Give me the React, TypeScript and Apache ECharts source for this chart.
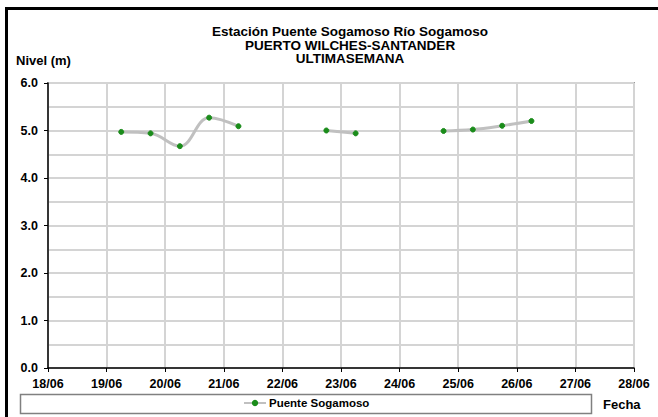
import React, { useEffect, useRef } from "react";
import * as echarts from "echarts";

const tituloLineas = [
  "Estación Puente Sogamoso Río Sogamoso",
  "PUERTO WILCHES-SANTANDER",
  "ULTIMASEMANA",
];
const serieNombre = "Puente Sogamoso";
const fechas = [
  "19/06 06:00", "19/06 18:00", "20/06 06:00", "20/06 18:00", "21/06 06:00",
  "21/06 18:00", "22/06 06:00", "22/06 18:00", "23/06 06:00", "23/06 18:00",
  "24/06 06:00", "24/06 18:00", "25/06 06:00", "25/06 18:00", "26/06 06:00",
];
const nivel: (number | null)[] = [
  4.97, 4.94, 4.67, 5.27, 5.09,
  null, null, 5.0, 4.94, null,
  null, 4.99, 5.02, 5.1, 5.2,
];
const diasEje = ["18/06", "19/06", "20/06", "21/06", "22/06", "23/06", "24/06", "25/06", "26/06", "27/06", "28/06"];

const toDia = (f: string) => {
  const [d, h] = f.split(" ");
  const dia = parseInt(d.split("/")[0], 10);
  const [hh, mm] = h.split(":").map((x) => parseInt(x, 10));
  return dia + (hh + mm / 60) / 24;
};

const FONT = "'Liberation Sans', Arial, sans-serif";

export default function App() {
  const ref = useRef<HTMLDivElement>(null);
  useEffect(() => {
    if (!ref.current) return;
    const chart = echarts.init(ref.current, null, { renderer: "svg" });
    const diaMin = parseInt(diasEje[0].split("/")[0], 10);
    const diaMax = parseInt(diasEje[diasEje.length - 1].split("/")[0], 10);
    chart.setOption({
      animation: false,
      backgroundColor: "#ffffff",
      textStyle: { fontFamily: FONT },
      graphic: [
        {
          type: "rect",
          z: -10,
          shape: { x: 6.5, y: 8.5, width: 800, height: 600 },
          style: { fill: "none", stroke: "#000", lineWidth: 3 },
        },
        {
          type: "rect",
          shape: { x: 20.5, y: 394.5, width: 571, height: 19 },
          style: { fill: "#fff", stroke: "#808080", lineWidth: 1.5 },
          z: -1,
        },
        {
          type: "text",
          x: 350,
          y: 25,
          style: {
            text: tituloLineas.join("\n"),
            fontFamily: FONT,
            fontWeight: "bold",
            fontSize: 13.5,
            lineHeight: 13.5,
            fill: "#000",
            align: "center",
            verticalAlign: "top",
          },
        },
        {
          type: "text",
          x: 16,
          y: 60,
          style: {
            text: "Nivel (m)",
            fontFamily: FONT,
            fontWeight: "bold",
            fontSize: 13,
            fill: "#000",
            verticalAlign: "middle",
          },
        },
        {
          type: "text",
          x: 603,
          y: 404,
          style: {
            text: "Fecha",
            fontFamily: FONT,
            fontWeight: "bold",
            fontSize: 13,
            fill: "#000",
            verticalAlign: "middle",
          },
        },
      ],
      grid: {
        left: 48,
        top: 83,
        right: 24,
        bottom: 49,
        show: true,
        borderColor: "#999",
        borderWidth: 2,
      },
      legend: {
        data: [serieNombre],
        left: 243,
        top: 397,
        padding: 0,
        itemWidth: 22,
        itemHeight: 8,
        itemGap: 4,
        textStyle: { fontFamily: FONT, fontWeight: "bold", fontSize: 11.5, color: "#000", padding: [0, 0, 0, -2] },
      },
      xAxis: {
        type: "value",
        min: diaMin,
        max: diaMax,
        interval: 1,
        axisLine: { show: true, lineStyle: { color: "#000", width: 1.5 } },
        axisTick: { show: true, length: 4, lineStyle: { color: "#000" } },
        axisLabel: {
          fontFamily: FONT,
          fontWeight: "bold",
          fontSize: 12.5,
          color: "#000",
          margin: 9,
          formatter: (v: number) => diasEje[Math.round(v) - diaMin] ?? "",
        },
        splitLine: { show: true, lineStyle: { color: "#d4d4d4", width: 2 } },
      },
      yAxis: {
        type: "value",
        min: 0,
        max: 6,
        interval: 1,
        axisLine: { show: true, lineStyle: { color: "#000", width: 1.5 } },
        axisTick: { show: true, length: 4, lineStyle: { color: "#000" } },
        axisLabel: {
          fontFamily: FONT,
          fontWeight: "bold",
          fontSize: 12.5,
          color: "#000",
          margin: 10,
          formatter: (v: number) => v.toFixed(1),
        },
        splitLine: { show: true, lineStyle: { color: "#d4d4d4", width: 2 } },
        minorTick: { show: false, splitNumber: 2 },
        minorSplitLine: { show: true, lineStyle: { color: "#d4d4d4", width: 2 } },
      },
      series: [
        {
          name: serieNombre,
          type: "line",
          data: fechas.map((f, i) => [toDia(f), nivel[i]]),
          smooth: 0.4,
          connectNulls: false,
          symbol: "circle",
          symbolSize: 5,
          lineStyle: { color: "#c0c0c0", width: 3 },
          itemStyle: { color: "#1a8c1a", borderColor: "#1a8c1a" },
        },
      ],
    });
    return () => chart.dispose();
  }, []);
  return (
    <div
      ref={ref}
      style={{ position: "absolute", left: 0, top: 0, width: 658, height: 417 }}
    />
  );
}
